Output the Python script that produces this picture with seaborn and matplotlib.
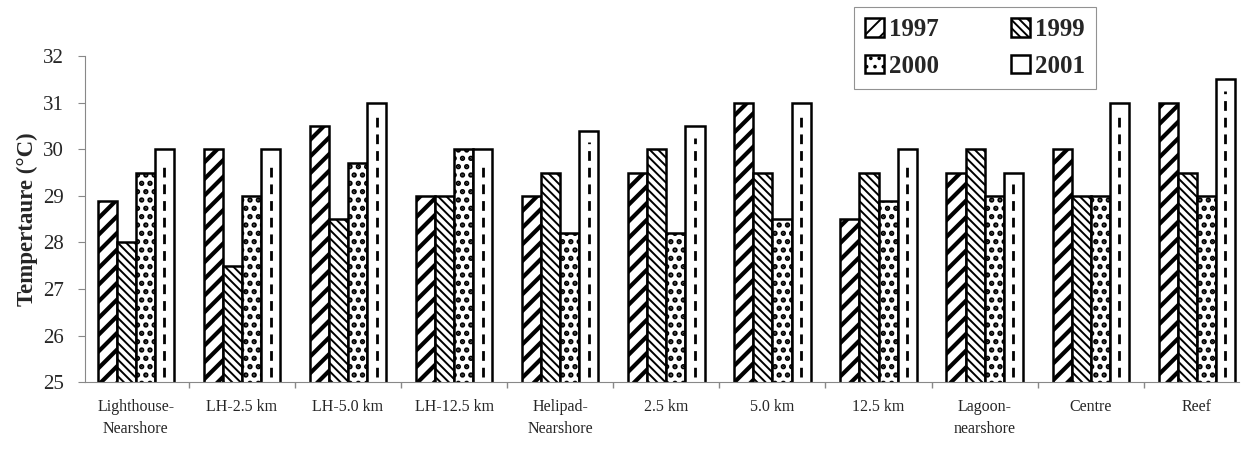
import pandas as pd
import matplotlib
matplotlib.use("Agg")
import matplotlib.pyplot as plt
import seaborn as sns

# stations along x
sites = ["Lighthouse-\nNearshore", "LH-2.5 km", "LH-5.0 km", "LH-12.5 km",
         "Helipad-\nNearshore", "2.5 km", "5.0 km", "12.5 km",
         "Lagoon-\nnearshore", "Centre", "Reef"]
years = ["1997", "1999", "2000", "2001"]

# temperatures
t1997 = [28.9, 30.0, 30.5, 29.0, 29.0, 29.5, 31.0, 28.5, 29.5, 30.0, 31.0]
t1999 = [28.0, 27.5, 28.5, 29.0, 29.5, 30.0, 29.5, 29.5, 30.0, 29.0, 29.5]
t2000 = [29.5, 29.0, 29.7, 30.0, 28.2, 28.2, 28.5, 28.9, 29.0, 29.0, 29.0]
t2001 = [30.0, 30.0, 31.0, 30.0, 30.4, 30.5, 31.0, 30.0, 29.5, 31.0, 31.5]

df = pd.DataFrame({
    "Site": sites * 4,
    "Year": [y for y in years for _ in sites],
    "Temp": t1997 + t1999 + t2000 + t2001,
})

sns.set_theme(style="white")
plt.rcParams["font.family"] = ["Liberation Serif", "DejaVu Serif"]
plt.rcParams["hatch.linewidth"] = 1.4

fig = plt.figure(figsize=(12.48, 4.57), dpi=100)
ax = fig.add_axes([0.068, 0.164, 0.925, 0.713])

sns.barplot(data=df, x="Site", y="Temp", hue="Year", order=sites, hue_order=years,
            palette=["white"] * 4, edgecolor="black", linewidth=1.8,
            width=0.72, gap=0, ax=ax, legend=False)

hatches = ["//", "\\\\\\\\", "..", ""]
hatch_lw = [3.0, 1.4, 2.6, 1.4]
for cont, h, hw in zip(ax.containers, hatches, hatch_lw):
    for bar in cont:
        bar.set_hatch(h)
        bar.set_edgecolor("black")
        try:
            bar.set_hatch_linewidth(hw)
        except AttributeError:
            pass

# 2001 bars: dashed line down the middle
for bar in ax.containers[3]:
    cx = bar.get_x() + bar.get_width() / 2
    ax.plot([cx, cx], [25.1, bar.get_height() - 0.25], color="black",
            lw=2.0, linestyle=(0, (3.5, 2.5)), zorder=3)

ax.set_ylim(25, 32)
ax.set_yticks(range(25, 33))
ax.set_xlim(-0.48, 10.4)
ax.set_xlabel("")
ax.set_ylabel("Tempertaure (°C)", fontsize=16.5, fontweight="bold", labelpad=4)

ax.tick_params(axis="y", labelsize=15, length=5, width=0.8, color="#888888",
               direction="out", left=True, pad=10)
ax.tick_params(axis="x", labelsize=11.5, length=0, pad=12)
for lbl in ax.get_xticklabels():
    lbl.set_linespacing(1.55)
ax.set_xticks([i + 0.5 for i in range(10)], minor=True)
ax.tick_params(axis="x", which="minor", length=4, color="#888888", bottom=True,
               direction="out")

for s in ["top", "right"]:
    ax.spines[s].set_visible(False)
ax.spines["left"].set_color("#888888")
ax.spines["left"].set_linewidth(0.8)
ax.spines["bottom"].set_color("#888888")
ax.spines["bottom"].set_linewidth(0.8)

# legend filled row by row: 1997 1999 / 2000 2001
handles = [ax.containers[i][0] for i in range(4)]
order = [0, 2, 1, 3]
leg = fig.legend([handles[i] for i in order], [years[i] for i in order],
                 ncol=2, loc="upper left", bbox_to_anchor=(0.684, 0.985),
                 prop={"size": 18, "weight": "bold"}, frameon=True,
                 fancybox=False, edgecolor="#777777", handlelength=0.75,
                 handleheight=0.75, handletextpad=0.2, columnspacing=2.9,
                 borderpad=0.45, labelspacing=0.55, borderaxespad=0)
leg.get_frame().set_linewidth(0.8)

fig.savefig("out.png", dpi=100, facecolor="white")
